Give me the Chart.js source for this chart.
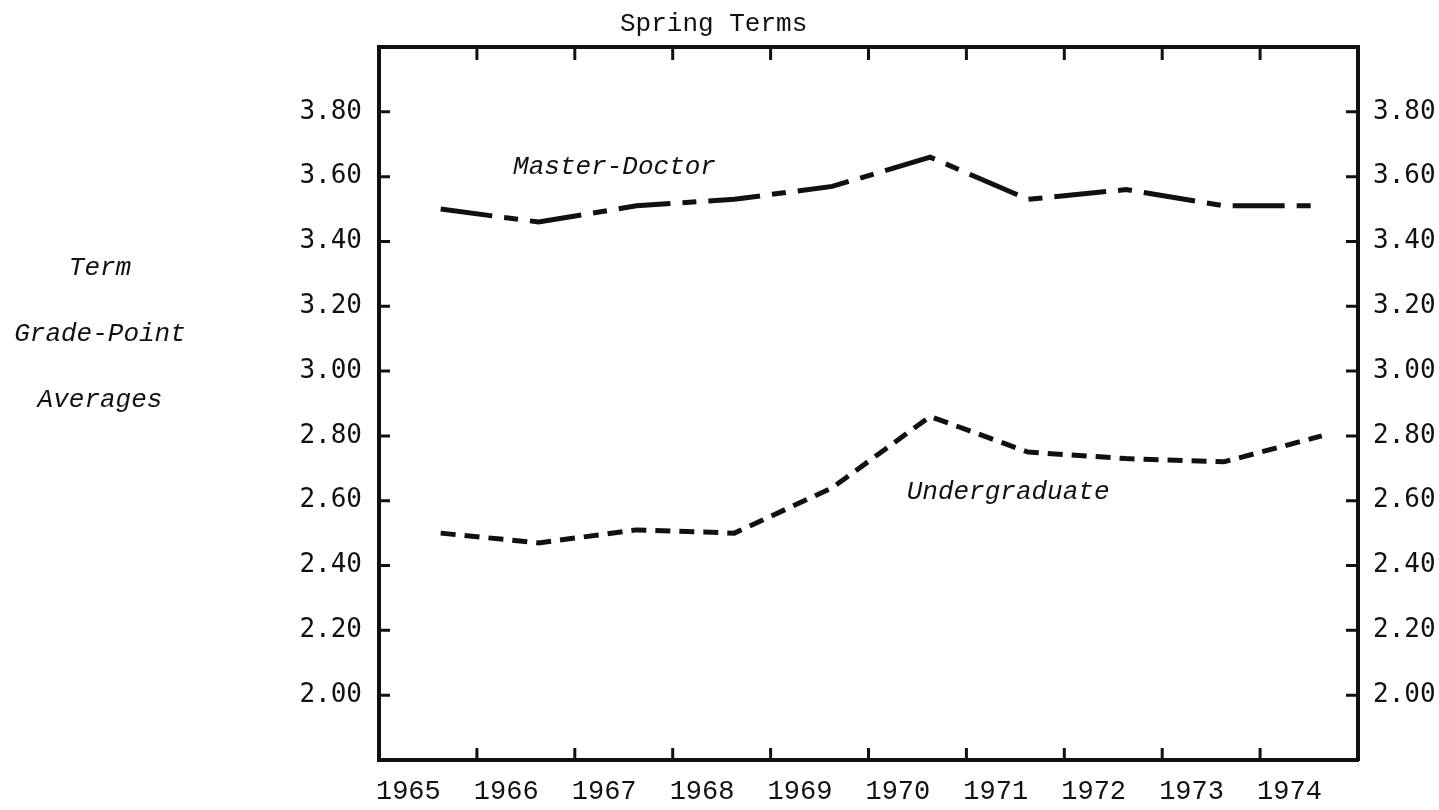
<!DOCTYPE html>
<html>
<head>
<meta charset="utf-8">
<title>Term Grade-Point Averages</title>
<script src="https://cdn.jsdelivr.net/npm/chart.js@4.4.1/dist/chart.umd.min.js"></script>
<style>
  html, body { margin: 0; padding: 0; background: #fff; }
  #wrap { position: relative; width: 1439px; height: 810px; }
  #chart { position: absolute; left: 0; top: 0; }
  .note { position: absolute; font-family: "Liberation Mono", monospace; font-size: 26px; color: #111; white-space: nowrap; }
  #yTitle { left: 0; top: 235px; width: 200px; text-align: center; font-style: italic; line-height: 66px; }
  #topTitle { left: 620px; top: 9px; line-height: 30px; }
</style>
</head>
<body>
<div id="wrap">
  <canvas id="chart" width="1439" height="810"></canvas>
  <div id="topTitle" class="note">Spring Terms</div>
  <div id="yTitle" class="note">Term<br>Grade-Point<br>Averages</div>
</div>
<script>
// values
const years = [1965, 1966, 1967, 1968, 1969, 1970, 1971, 1972, 1973, 1974];
const masterDoctor = [3.50, 3.46, 3.51, 3.53, 3.57, 3.66, 3.53, 3.56, 3.51, 3.51];
const undergraduate = [2.50, 2.47, 2.51, 2.50, 2.64, 2.86, 2.75, 2.73, 2.72, 2.80];
const yTicks = [2.00, 2.20, 2.40, 2.60, 2.80, 3.00, 3.20, 3.40, 3.60, 3.80];

const INK = '#111';
const POINT_SHIFT = 0.63;   // spring term sits late in each year slot
const LABEL_SHIFT = 0.3;    // year labels sit left of slot centre

const seriesNotes = [
    { text: 'Master-Doctor', x: 1966.37, y: 3.63 },
    { text: 'Undergraduate', x: 1970.39, y: 2.626 }
];

const toPoints = vals => vals.map((v, i) => ({ x: years[i] + POINT_SHIFT, y: v }));

// little tick marks pointing into the box on all four sides
const innerTicks = {
    id: 'innerTicks',
    afterDraw(chart) {
        const { ctx, chartArea: a, scales } = chart;
        ctx.save();
        ctx.strokeStyle = INK;
        ctx.lineWidth = 3;
        ctx.beginPath();
        years.slice(1).forEach(yr => {
            const px = scales.x.getPixelForValue(yr);
            ctx.moveTo(px, a.bottom);
            ctx.lineTo(px, a.bottom - 12);
            ctx.moveTo(px, a.top);
            ctx.lineTo(px, a.top + 13);
        });
        yTicks.forEach(v => {
            const py = scales.y.getPixelForValue(v);
            ctx.moveTo(a.left, py);
            ctx.lineTo(a.left + 11, py);
            const py2 = scales.y2.getPixelForValue(v);
            ctx.moveTo(a.right, py2);
            ctx.lineTo(a.right - 12, py2);
        });
        ctx.stroke();
        ctx.restore();
    }
};

const seriesLabels = {
    id: 'seriesLabels',
    afterDatasetsDraw(chart) {
        const { ctx, scales } = chart;
        ctx.save();
        ctx.fillStyle = INK;
        ctx.font = 'italic 26px "Liberation Mono", monospace';
        ctx.textAlign = 'left';
        ctx.textBaseline = 'middle';
        seriesNotes.forEach(n => {
            ctx.fillText(n.text, scales.x.getPixelForValue(n.x), scales.y.getPixelForValue(n.y));
        });
        ctx.restore();
    }
};

const hiddenGrid = { display: true, drawOnChartArea: false, drawTicks: false };
const frame = { display: true, color: INK, width: 4 };
const numFont = { family: 'DejaVu Sans Mono', size: 26 };

new Chart(document.getElementById('chart'), {
    type: 'line',
    data: {
        datasets: [
            {
                label: 'Master-Doctor',
                data: toPoints(masterDoctor),
                borderColor: INK,
                borderWidth: 5,
                borderDash: [52, 12, 14, 12],
                pointRadius: 0,
                tension: 0,
                fill: false
            },
            {
                label: 'Undergraduate',
                data: toPoints(undergraduate),
                borderColor: INK,
                borderWidth: 5,
                borderDash: [15, 9],
                pointRadius: 0,
                tension: 0,
                fill: false
            }
        ]
    },
    options: {
        responsive: false,
        animation: false,
        devicePixelRatio: 1,
        layout: { padding: 0 },
        plugins: {
            legend: { display: false },
            title: { display: false },
            tooltip: { enabled: false }
        },
        scales: {
            x: {
                type: 'linear',
                position: 'bottom',
                min: 1965,
                max: 1975,
                afterBuildTicks: s => { s.ticks = years.map(yr => ({ value: yr + LABEL_SHIFT })); },
                afterFit: s => { s.height = 50; },
                ticks: {
                    autoSkip: false,
                    maxRotation: 0,
                    padding: 16,
                    color: INK,
                    font: { family: 'Liberation Mono', size: 27 },
                    callback: v => String(Math.round(v - LABEL_SHIFT))
                },
                grid: hiddenGrid,
                border: frame
            },
            x2: {
                type: 'linear',
                position: 'top',
                min: 1965,
                max: 1975,
                afterFit: s => { s.height = 47; },
                ticks: { display: false },
                grid: hiddenGrid,
                border: frame
            },
            y: {
                position: 'left',
                min: 1.8,
                max: 4.0,
                afterBuildTicks: s => { s.ticks = yTicks.map(v => ({ value: v })); },
                afterFit: s => { s.width = 379; },
                ticks: { padding: 17, color: INK, font: numFont, callback: v => v.toFixed(2) },
                grid: hiddenGrid,
                border: frame
            },
            y2: {
                position: 'right',
                min: 1.8,
                max: 4.0,
                afterBuildTicks: s => { s.ticks = yTicks.map(v => ({ value: v })); },
                afterFit: s => { s.width = 81; },
                ticks: { padding: 15, color: INK, font: numFont, callback: v => v.toFixed(2) },
                grid: hiddenGrid,
                border: frame
            }
        }
    },
    plugins: [innerTicks, seriesLabels]
});
</script>
</body>
</html>
